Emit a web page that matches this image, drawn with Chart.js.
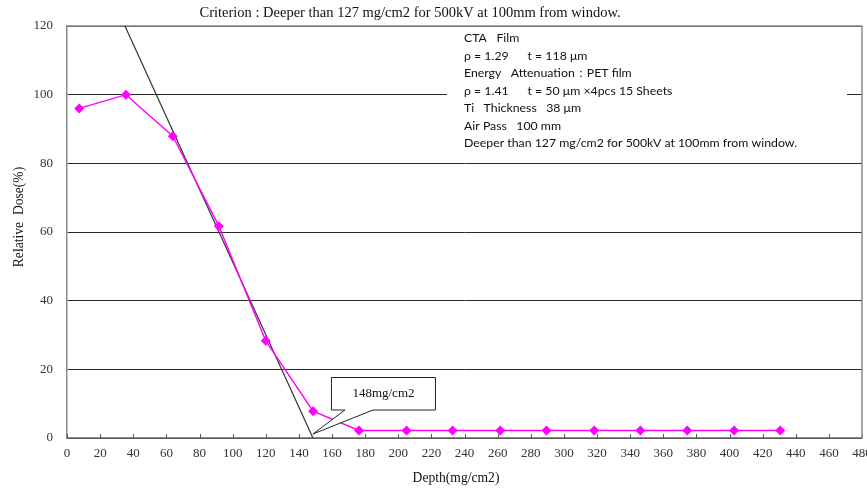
<!DOCTYPE html>
<html>
<head>
<meta charset="utf-8">
<script src="https://cdn.jsdelivr.net/npm/chart.js@4.4.1/dist/chart.umd.min.js"></script>
<style>
  html, body { margin: 0; padding: 0; background: #fff; }
  #wrap { width: 867px; height: 490px; }
</style>
</head>
<body>
<div id="wrap"><canvas id="doseChart"></canvas></div>
<script>
'use strict';

// ---- data ----
const depth = [7.4, 35.6, 63.9, 91.7, 120, 148.6, 176.3, 205, 232.8, 261.6, 289.5, 318.3, 346.2, 374.5, 402.8, 430.6];
const relDose = [96, 100, 87.9, 61.7, 28.3, 7.8, 2.2, 2.2, 2.2, 2.2, 2.2, 2.2, 2.2, 2.2, 2.2, 2.2];
const trendDepth = [35, 148.5];
const trendDose = [120, 0];
const calloutAt = { x: 148.5, y: 0, text: '148mg/cm2' };

const chartTitle = 'Criterion : Deeper than 127 mg/cm2 for 500kV at 100mm from window.';
const xTitle = 'Depth(mg/cm2)';
const yTitle = 'Relative  Dose(%)';
const noteLines = [
  'CTA   Film',
  'ρ = 1.29      t = 118 μm',
  'Energy   Attenuation：PET film',
  'ρ = 1.41      t = 50 μm ×4pcs 15 Sheets',
  'Ti   Thickness   38 μm',
  'Air Pass   100 mm',
  'Deeper than 127 mg/cm2 for 500kV at 100mm from window.'
];

const SERIF = "'Liberation Serif', 'Times New Roman', serif";
const SANS = "Lato, 'Liberation Sans', sans-serif";

// Extra drawing: titles, note box, inward x ticks, right border, callout
const decorPlugin = {
  id: 'decor',
  beforeDatasetsDraw(chart) {
    const { ctx, chartArea: a, scales } = chart;
    ctx.save();
    // note box (white, hides the grid)
    ctx.fillStyle = '#fff';
    ctx.fillRect(447, a.top + 1.5, 400, 128);
    ctx.fillStyle = '#111';
    ctx.font = '12.3px ' + SANS;
    ctx.textBaseline = 'middle';
    noteLines.forEach((t, i) => ctx.fillText(t, 464, 38.5 + i * 17.5));

    // inward tick marks on x axis
    ctx.strokeStyle = '#555';
    ctx.lineWidth = 1;
    scales.x.ticks.forEach(tk => {
      const px = Math.round(scales.x.getPixelForValue(tk.value)) + 0.5;
      ctx.beginPath();
      ctx.moveTo(px, a.bottom);
      ctx.lineTo(px, a.bottom - 4);
      ctx.stroke();
    });

    // top and right border
    ctx.strokeStyle = '#8a8a8a';
    ctx.lineWidth = 1.5;
    ctx.beginPath();
    ctx.moveTo(a.left, a.top);
    ctx.lineTo(a.right, a.top);
    ctx.lineTo(a.right, a.bottom);
    ctx.stroke();
    ctx.restore();
  },
  afterDatasetsDraw(chart) {
    const { ctx, scales } = chart;
    const ax = scales.x.getPixelForValue(calloutAt.x);
    const ay = scales.y.getPixelForValue(calloutAt.y);
    ctx.save();
    // callout box with pointer
    const bx = ax + 18.5, by = ay - 60.5, bw = 104, bh = 32.5;
    ctx.beginPath();
    ctx.moveTo(bx, by);
    ctx.lineTo(bx + bw, by);
    ctx.lineTo(bx + bw, by + bh);
    ctx.lineTo(ax + 60, by + bh);
    ctx.lineTo(ax, ay - 4);
    ctx.lineTo(ax + 32, by + bh);
    ctx.lineTo(bx, by + bh);
    ctx.closePath();
    ctx.fillStyle = '#fff';
    ctx.fill();
    ctx.strokeStyle = '#222';
    ctx.lineWidth = 1;
    ctx.stroke();
    ctx.fillStyle = '#111';
    ctx.font = '13px ' + SERIF;
    ctx.textAlign = 'center';
    ctx.textBaseline = 'middle';
    ctx.fillText(calloutAt.text, bx + bw / 2, by + bh / 2);

    // chart title and axis titles
    ctx.font = '14.5px ' + SERIF;
    ctx.fillText(chartTitle, 410, 13);
    ctx.font = '13.6px ' + SERIF;
    ctx.fillText(xTitle, 456, 478);
    ctx.translate(19, 217);
    ctx.rotate(-Math.PI / 2);
    ctx.fillText(yTitle, 0, 0);
    ctx.restore();
  }
};

new Chart(document.getElementById('doseChart'), {
  type: 'line',
  data: {
    datasets: [
      {
        label: 'Trend',
        data: trendDepth.map((x, i) => ({ x, y: trendDose[i] })),
        borderColor: '#333',
        borderWidth: 1.2,
        pointRadius: 0,
        fill: false,
        order: 2
      },
      {
        label: 'Relative dose',
        data: depth.map((x, i) => ({ x, y: relDose[i] })),
        borderColor: '#ff00ff',
        backgroundColor: '#ff00ff',
        borderWidth: 1.4,
        pointStyle: 'rectRot',
        pointRadius: 5,
        pointBorderWidth: 0,
        tension: 0,
        order: 1
      }
    ]
  },
  options: {
    responsive: true,
    maintainAspectRatio: false,
    animation: false,
    clip: false,
    layout: { padding: { top: 26, right: 4, left: 0, bottom: 0 } },
    plugins: {
      legend: { display: false },
      tooltip: { enabled: false },
      title: { display: false }
    },
    scales: {
      x: {
        type: 'linear',
        min: 0,
        max: 480,
        border: { color: '#8a8a8a', width: 1.5 },
        grid: { display: false, drawTicks: false },
        ticks: {
          stepSize: 20,
          padding: 8,
          maxRotation: 0,
          autoSkip: false,
          color: '#333',
          font: { family: SERIF, size: 13 }
        },
        afterFit(scale) {
          scale.height = 52;
          scale.paddingLeft = 0;
          scale.paddingRight = 0;
        }
      },
      y: {
        min: 0,
        max: 120,
        border: { color: '#8a8a8a', width: 1.5 },
        grid: { color: '#2a2a2a', lineWidth: 1, drawTicks: false },
        ticks: {
          stepSize: 20,
          padding: 14,
          color: '#333',
          font: { family: SERIF, size: 13 }
        },
        afterFit(scale) {
          scale.width = 67;
          scale.paddingTop = 0;
          scale.paddingBottom = 0;
        }
      }
    }
  },
  plugins: [decorPlugin]
});
</script>
</body>
</html>
